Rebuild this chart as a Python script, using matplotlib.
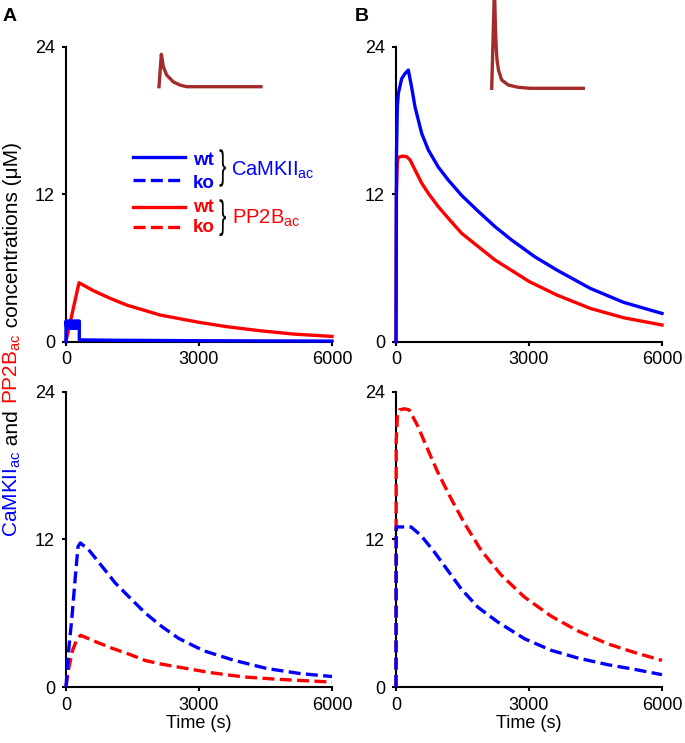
import numpy as np
import matplotlib
matplotlib.use("Agg")
import matplotlib.pyplot as plt
from matplotlib.textpath import TextPath
from matplotlib.patches import PathPatch
from matplotlib.font_manager import FontProperties
from matplotlib.transforms import Affine2D, IdentityTransform

plt.rcParams['font.family'] = ['Liberation Sans', 'DejaVu Sans']
plt.rcParams['mathtext.fontset'] = 'custom'
plt.rcParams['mathtext.rm'] = 'Liberation Sans'
plt.rcParams['mathtext.it'] = 'Liberation Sans:italic'
plt.rcParams['mathtext.bf'] = 'Liberation Sans:bold'

BLUE = '#0000ff'
RED = '#ff0000'
BROWN = '#a52a2a'

# --- panel A, wild type (top left) ---
camk_wt_a_t = [0, 0, 15, 30, 45, 60, 75, 90, 105, 120, 135, 150, 165, 180, 195,
               210, 225, 240, 255, 270, 285, 300, 300, 1000, 2000, 3000, 4000, 5000, 6000]
camk_wt_a = [0, 1.68, 1.08, 1.68, 1.08, 1.68, 1.08, 1.68, 1.08, 1.68, 1.08, 1.68, 1.08,
             1.68, 1.08, 1.68, 1.08, 1.68, 1.08, 1.68, 1.08, 1.68, 0.15, 0.12, 0.1, 0.08,
             0.07, 0.06, 0.05]
pp2b_wt_a_t = [0, 294, 617, 994, 1370, 2123, 3011, 3628, 4381, 5134, 6000]
pp2b_wt_a = [0.05, 4.8, 4.15, 3.53, 2.98, 2.17, 1.57, 1.22, 0.89, 0.62, 0.43]

# --- panel B, wild type (top right) ---
camk_wt_b_t = [0, 10, 30, 53, 128, 200, 278, 353, 429, 579, 729, 955, 1180, 1481,
               1857, 2233, 2609, 3135, 3628, 4381, 5134, 6000]
camk_wt_b = [0, 15, 19.1, 20.2, 21.4, 21.8, 22.1, 20.7, 19.1, 16.95, 15.6, 14.2, 13.15,
             11.9, 10.6, 9.36, 8.27, 6.9, 5.83, 4.34, 3.2, 2.3]
pp2b_wt_b_t = [0, 10, 30, 53, 150, 241, 316, 429, 579, 729, 955, 1180, 1481, 1857,
               2233, 3011, 3628, 4381, 5134, 6000]
pp2b_wt_b = [0, 12, 14.6, 15.0, 15.1, 15.05, 14.8, 13.97, 12.9, 12.07, 10.98, 10.04,
             8.82, 7.73, 6.65, 4.88, 3.80, 2.71, 1.95, 1.36]

# --- panel A, knock-out (bottom left) ---
camk_ko_a_t = [0, 60, 135, 211, 271, 323, 511, 812, 1113, 1413, 1789, 2165, 2541,
               3101, 3778, 4531, 5284, 6000]
camk_ko_a = [0, 3.0, 5.7, 9.0, 11.4, 11.7, 11.15, 9.8, 8.44, 7.35, 6.0, 4.9, 3.95,
             2.95, 2.18, 1.5, 1.09, 0.85]
pp2b_ko_a_t = [0, 60, 150, 250, 330, 662, 1038, 1413, 1789, 2165, 2917, 3293, 4003, 4756, 6000]
pp2b_ko_a = [0, 1.5, 3.0, 3.9, 4.2, 3.69, 3.15, 2.68, 2.15, 1.85, 1.38, 1.15, 0.82, 0.63, 0.4]

# --- panel B, knock-out (bottom right) ---
camk_ko_b_t = [0, 5, 340, 565, 866, 1167, 1468, 1844, 2296, 2898, 3500, 4103, 4780, 5383, 6000]
camk_ko_b = [0, 13.0, 13.0, 12.3, 10.96, 9.47, 7.98, 6.49, 5.28, 3.92, 2.98, 2.35, 1.81, 1.43, 1.0]
pp2b_ko_b_t = [0, 5, 30, 75, 188, 300, 489, 715, 941, 1242, 1543, 1920, 2371, 2898,
               3500, 4103, 4780, 5383, 6000]
pp2b_ko_b = [0, 20, 22.0, 22.5, 22.6, 22.5, 21.2, 19.3, 17.45, 15.3, 13.3, 11.1, 9.1,
             7.3, 5.75, 4.55, 3.5, 2.8, 2.16]

# stimulus insets (arbitrary units)
stim_a_t = [0, 0.023, 0.042, 0.075, 0.14, 0.206, 0.27, 1.0]
stim_a = [0, 1.0, 0.62, 0.36, 0.15, 0.05, 0.0, 0.0]
stim_b_t = [0, 0.03, 0.041, 0.05, 0.058, 0.074, 0.109, 0.181, 0.29, 0.42, 1.0]
stim_b = [0, 1.0, 0.6, 0.4, 0.283, 0.183, 0.083, 0.033, 0.01, 0.0, 0.0]

W, H = 685, 743
fig = plt.figure(figsize=(W / 100, H / 100), dpi=100)


def px_axes(left, top, right, bottom):
    return fig.add_axes([left / W, 1 - bottom / H, (right - left) / W, (bottom - top) / H])


def style(ax):
    ax.set_xlim(0, 6000)
    ax.set_ylim(0, 24)
    ax.set_xticks([0, 3000, 6000])
    ax.set_yticks([0, 12, 24])
    for s in ['top', 'right']:
        ax.spines[s].set_visible(False)
    for s in ['left', 'bottom']:
        ax.spines[s].set_linewidth(1.5)
    ax.tick_params(direction='out', length=3, width=1.5, labelsize=13)
    ax.tick_params(axis='x', pad=4)
    ax.tick_params(axis='y', pad=5)


LW = 2.4
DASH = (0, (3.6, 1.6))

ax_a1 = px_axes(66, 46.7, 332, 341.7)
ax_b1 = px_axes(396, 46.7, 662, 341.7)
ax_a2 = px_axes(66, 391.5, 332, 687)
ax_b2 = px_axes(396, 391.5, 662, 687)
for ax in [ax_a1, ax_b1, ax_a2, ax_b2]:
    style(ax)

kw = dict(lw=LW, clip_on=False, zorder=3)
ax_a1.plot(pp2b_wt_a_t, pp2b_wt_a, color=RED, **kw)
ax_a1.plot(camk_wt_a_t, camk_wt_a, color=BLUE, **kw)
ax_b1.plot(pp2b_wt_b_t, pp2b_wt_b, color=RED, **kw)
ax_b1.plot(camk_wt_b_t, camk_wt_b, color=BLUE, **kw)
ax_a2.plot(pp2b_ko_a_t, pp2b_ko_a, color=RED, ls=DASH, **kw)
ax_a2.plot(camk_ko_a_t, camk_ko_a, color=BLUE, ls=DASH, **kw)
ax_b2.plot(pp2b_ko_b_t, pp2b_ko_b, color=RED, ls=DASH, **kw)
ax_b2.plot(camk_ko_b_t, camk_ko_b, color=BLUE, ls=DASH, **kw)

for ax in [ax_a2, ax_b2]:
    ax.set_xlabel('Time (s)', fontsize=13, labelpad=1)

# stimulus insets
ins_a = px_axes(159, 54.3, 261, 86.7)
ins_a.plot(stim_a_t, stim_a, color=BROWN, lw=LW, clip_on=False)
ins_b = px_axes(491.7, -11.7, 583.3, 88.3)
ins_b.plot(stim_b_t, stim_b, color=BROWN, lw=LW, clip_on=False)
for ax in [ins_a, ins_b]:
    ax.set_xlim(0, 1)
    ax.set_ylim(0, 1)
    ax.axis('off')

# legend in panel A top
tr = ax_a1.transAxes
leg = [(0.627, 0.600, BLUE, '-', 'wt'), (0.548, 0.5207, BLUE, DASH, 'ko'),
       (0.4576, 0.4407, RED, '-', 'wt'), (0.3878, 0.3729, RED, DASH, 'ko')]
for ly, by, c, ls, lab in leg:
    ax_a1.plot([0.252, 0.447], [ly, ly], color=c, ls=ls, lw=LW, transform=tr)
    ax_a1.text(0.476, by, lab, color=c, fontsize=13.5, fontweight='bold',
               transform=tr, va='baseline', ha='left')
ax_a1.text(0.620, 0.5617, r'CaMKII$_{\mathrm{ac}}$', color=BLUE, fontsize=14.5,
           transform=tr, va='baseline', ha='left')
ax_a1.text(0.623, 0.401, r'PP2B$_{\mathrm{ac}}$', color=RED, fontsize=14.5,
           transform=tr, va='baseline', ha='left')


def brace(x_px, top_px, bottom_px, width_px):
    tp = TextPath((0, 0), '}', size=100, prop=FontProperties(family='Liberation Sans'))
    bb = tp.get_extents()
    t = (Affine2D().translate(-bb.x0, -bb.y0)
         .scale(width_px / bb.width, (bottom_px - top_px) / bb.height)
         .translate(x_px, H - bottom_px))
    fig.add_artist(PathPatch(t.transform_path(tp), facecolor='black',
                             edgecolor='none', transform=IdentityTransform()))


brace(219.5, 149.3, 186.7, 6.5)
brace(219.5, 199.3, 236, 6.5)

# multicoloured y label
fig.canvas.draw()
renderer = fig.canvas.get_renderer()
parts = [(r'CaMKII$_{\mathrm{ac}}$', BLUE), (' and ', 'black'),
         (r'PP2B$_{\mathrm{ac}}$', RED), (' concentrations (μM)', 'black')]
y = H - 537
for s, c in parts:
    t = fig.text(17.5 / W, y / H, s, color=c, fontsize=15, rotation=90,
                 rotation_mode='anchor', ha='left', va='baseline')
    y += t.get_window_extent(renderer).height

fig.text(3 / W, 1 - 20.7 / H, 'A', fontsize=14, fontweight='bold', va='baseline')
fig.text(355 / W, 1 - 20.7 / H, 'B', fontsize=14, fontweight='bold', va='baseline')

fig.savefig('out.png', dpi=100)
